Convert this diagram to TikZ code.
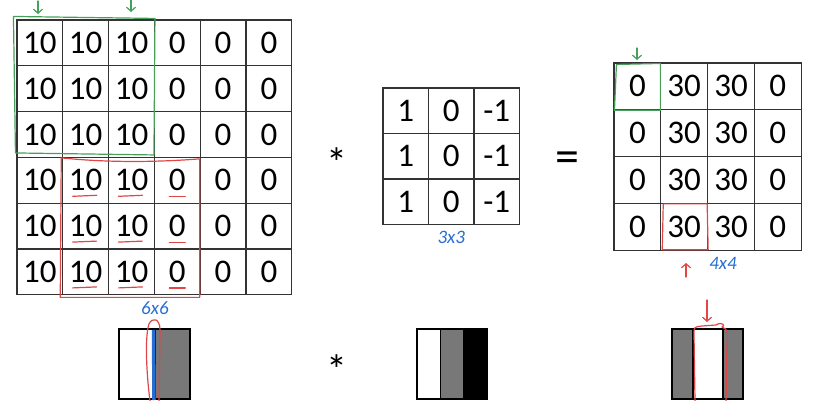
\documentclass[tikz,border=0pt]{standalone}
\usepackage{fontspec}
\setmainfont{Carlito}
\usepackage{xcolor}
\usetikzlibrary{arrows.meta, positioning, calc}

\definecolor{pengreen}{RGB}{70,160,90}
\definecolor{penred}{RGB}{225,70,70}
\definecolor{penblue}{RGB}{40,110,210}
\definecolor{stripegray}{RGB}{120,120,120}

\begin{document}
\begin{tikzpicture}[x=1pt, y=-1pt,
    cell/.style={rectangle, draw=black!80, line width=1.1pt, inner sep=0pt,
        font=\fontsize{33}{33}\selectfont},
    bigcell/.style={cell, minimum size=45.8pt},
    fltcell/.style={cell, minimum size=45.5pt},
    outcell/.style={cell, minimum size=46.8pt},
    op/.style={inner sep=0pt, font=\fontsize{42}{42}\selectfont},
    stripe/.style={rectangle, draw=black, line width=1.6pt, inner sep=0pt,
        outer sep=0pt, minimum height=70pt},
    size/.style={inner sep=0pt, text=penblue, font=\fontsize{19}{19}\itshape},
    greenpen/.style={draw=pengreen, line width=1.2pt, line join=round, line cap=round},
    redpen/.style={draw=penred, line width=1.2pt, line join=round, line cap=round},
    pentip/.style={-{Straight Barb[length=4pt, width=9pt]}}]
    \useasboundingbox (0,0) rectangle (821,401);

    \foreach \r in {1,...,6}
        \foreach \c/\v in {1/10,2/10,3/10,4/0,5/0,6/0}
            \node[bigcell] (img-\r-\c) at ({17+45.8*(\c-0.5)},{20+45.8*(\r-0.5)}) {\v};
    \foreach \r in {1,2,3}
        \foreach \c/\v in {1/1,2/0,3/-1}
            \node[fltcell] (flt-\r-\c) at ({383+45.5*(\c-0.5)},{88+45.5*(\r-0.5)}) {\v};
    \foreach \r in {1,...,4}
        \foreach \c/\v in {1/0,2/30,3/30,4/0}
            \node[outcell] (out-\r-\c) at ({614+46.8*(\c-0.5)},{63+46.8*(\r-0.5)}) {\v};

    \node[op] (star) at (337,163) {*};
    \node[op, font=\fontsize{48}{48}\selectfont] (eq) at (567,162) {=};
    \node[size, below=6pt of img-6-3.south east] (sz-img) {6x6};
    \node[size, below=6pt of flt-3-2] (sz-flt) {3x3};
    \node[size, below=6pt of out-4-3.south west, xshift=16pt] (sz-out) {4x4};

    \node[stripe, fill=white, minimum width=36pt] (edge-l) at (137,364) {};
    \node[stripe, fill=stripegray, minimum width=35pt, right=0pt of edge-l] (edge-r) {};
    \node[stripe, fill=white, minimum width=23.3pt] (kern-l) at (428.7,364) {};
    \node[stripe, fill=stripegray, minimum width=23.3pt, right=0pt of kern-l] (kern-m) {};
    \node[stripe, fill=black, minimum width=23.3pt, right=0pt of kern-m] (kern-r) {};
    \node[stripe, fill=stripegray, minimum width=21pt] (res-l) at (682.5,364) {};
    \node[stripe, fill=white, minimum width=30pt, right=0pt of res-l] (res-m) {};
    \node[stripe, fill=stripegray, minimum width=20pt, right=0pt of res-m] (res-r) {};
    \node[op] (star-b) at (337,370) {*};

    \draw[greenpen] ([shift={(-3,-3)}]img-1-1.north west) -- ([shift={(0,-1)}]img-1-3.north east)
        -- ([shift={(-1,-3)}]img-3-3.south east) -- ([shift={(-1,-5)}]img-3-1.south west) -- cycle;
    \draw[greenpen, pentip] (38,1) -- (38,14);
    \draw[greenpen, pentip] (131,0) -- (131,12);
    \draw[greenpen] ([shift={(3,2)}]out-1-1.north west) -- ([shift={(-1,1)}]out-1-1.north east)
        -- ([shift={(-1,0)}]out-1-1.south east) -- ([shift={(1,0)}]out-1-1.south west) -- cycle;
    \draw[greenpen, pentip] (637,48) -- (637,60);

    \draw[redpen] ([shift={(-1,1)}]img-4-2.north west) .. controls (110,163) and (160,162) ..
        ([shift={(-1,2)}]img-4-4.north east) -- ([shift={(-1,2)}]img-6-4.south east)
        -- ([shift={(-2,2)}]img-6-2.south west) -- cycle;
    \foreach \r in {4,5,6} {
        \foreach \c in {2,3}
            \draw[redpen] ([shift={(-13,16)}]img-\r-\c.center) -- ([shift={(11,15)}]img-\r-\c.center);
        \draw[redpen] ([shift={(-8,16)}]img-\r-4.center) -- ([shift={(8,16)}]img-\r-4.center);
    }
    \draw[redpen] ([shift={(3,1)}]out-4-2.north west) -- ([shift={(-1,1)}]out-4-2.north east)
        -- ([shift={(0,-1)}]out-4-2.south east) -- ([shift={(2,-1)}]out-4-2.south west) -- cycle;
    \draw[redpen, pentip] (686,277) -- (686,263);

    \draw[draw=penblue, line width=3.5pt] (153.5,330) -- (154,400);
    \draw[redpen] (150,401) .. controls (146,370) and (145,335) .. (149,324)
        .. controls (152,317) and (160,318) .. (160,330) -- (159,401);
    \draw[redpen, pentip] (707,300) -- (707,322);
    \draw[redpen] (695,401) -- (694,334) .. controls (694,327) .. (702,326)
        -- (716,325) .. controls (722,321) and (726,326) .. (722,327)
        .. controls (728,330) .. (727,345) -- (726,401);
\end{tikzpicture}
\end{document}
